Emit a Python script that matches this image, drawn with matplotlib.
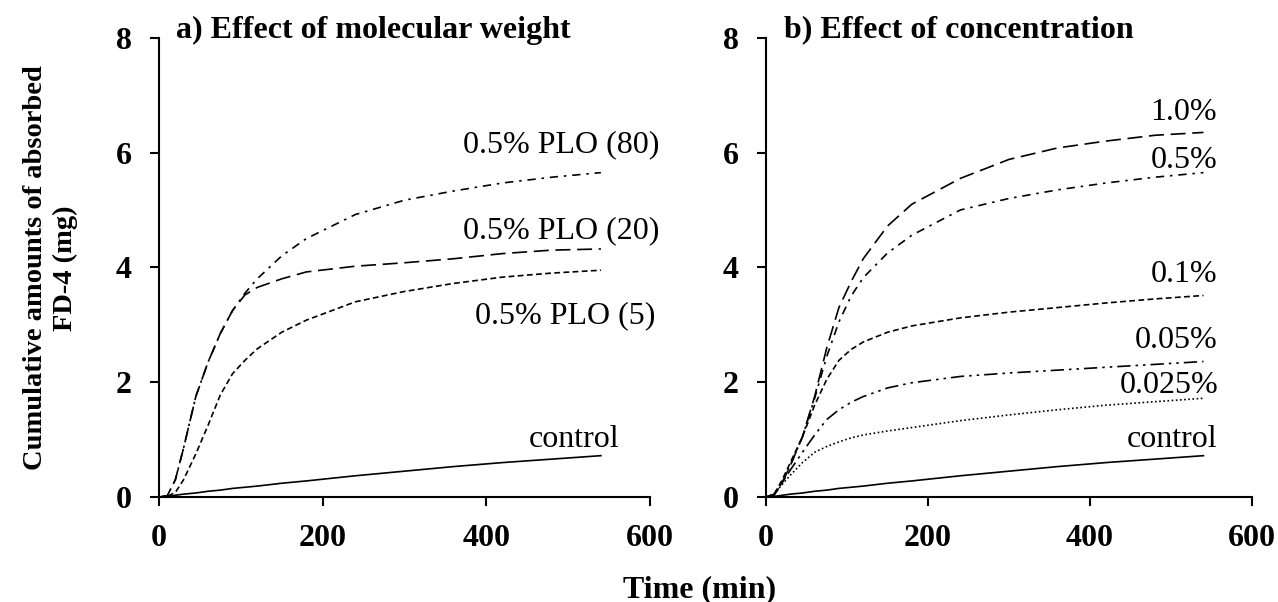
import matplotlib
matplotlib.use("Agg")
import matplotlib.pyplot as plt

plt.rcParams['font.family'] = ['Liberation Serif', 'DejaVu Serif']

# time points (min)
t = [0, 10, 20, 30, 45, 60, 75, 90, 105, 120, 150, 180, 240, 300, 360, 420, 480, 540]

# a) effect of molecular weight
control = [0, 0.01, 0.03, 0.05, 0.07, 0.10, 0.12, 0.15, 0.17, 0.19, 0.24, 0.28, 0.37, 0.45, 0.53, 0.60, 0.66, 0.72]
plo80 = [0, 0.02, 0.30, 0.85, 1.75, 2.35, 2.85, 3.25, 3.55, 3.80, 4.20, 4.50, 4.92, 5.17, 5.33, 5.47, 5.57, 5.65]
plo20 = [0, 0.02, 0.30, 0.85, 1.75, 2.35, 2.85, 3.25, 3.52, 3.65, 3.80, 3.92, 4.02, 4.08, 4.15, 4.24, 4.30, 4.32]
plo5 = [0, 0.01, 0.08, 0.30, 0.75, 1.25, 1.78, 2.15, 2.38, 2.58, 2.87, 3.08, 3.40, 3.58, 3.72, 3.83, 3.90, 3.95]

# b) effect of concentration
c10 = [0, 0.03, 0.25, 0.55, 1.05, 1.75, 2.60, 3.30, 3.75, 4.15, 4.72, 5.10, 5.55, 5.88, 6.08, 6.20, 6.30, 6.35]
c05 = [0, 0.03, 0.25, 0.55, 1.05, 1.72, 2.45, 3.05, 3.50, 3.82, 4.25, 4.56, 5.00, 5.20, 5.35, 5.47, 5.57, 5.65]
c01 = [0, 0.05, 0.30, 0.60, 1.05, 1.60, 2.05, 2.38, 2.57, 2.70, 2.87, 2.98, 3.12, 3.22, 3.30, 3.38, 3.45, 3.51]
c005 = [0, 0.05, 0.25, 0.47, 0.78, 1.08, 1.35, 1.52, 1.65, 1.75, 1.90, 1.99, 2.10, 2.16, 2.21, 2.26, 2.31, 2.36]
c0025 = [0, 0.05, 0.22, 0.38, 0.60, 0.78, 0.88, 0.96, 1.03, 1.08, 1.15, 1.21, 1.33, 1.43, 1.52, 1.60, 1.66, 1.72]

xticks = [0, 200, 400, 600]
yticks = [0, 2, 4, 6, 8]

fig = plt.figure(figsize=(12.78, 6.02), dpi=100)
ax1 = fig.add_axes([0.1244, 0.1744, 0.3842, 0.763])
ax2 = fig.add_axes([0.5994, 0.1744, 0.3803, 0.763])

lw = 1.2
ax1.plot(t, control, color='black', lw=lw, ls='-')
ax1.plot(t, plo80, color='black', lw=lw, ls=(0, (5, 3.5, 1.5, 3.5)))
ax1.plot(t, plo20, color='black', lw=lw, ls=(0, (9, 4)))
ax1.plot(t, plo5, color='black', lw=lw, ls=(0, (3.5, 2)))

ax2.plot(t, control, color='black', lw=lw, ls='-')
ax2.plot(t, c10, color='black', lw=lw, ls=(0, (9, 4)))
ax2.plot(t, c05, color='black', lw=lw, ls=(0, (5, 3.5, 1.5, 3.5)))
ax2.plot(t, c01, color='black', lw=lw, ls=(0, (3.5, 2)))
ax2.plot(t, c005, color='black', lw=lw, ls=(0, (8, 3, 1.5, 3, 1.5, 3)))
ax2.plot(t, c0025, color='black', lw=lw, ls=(0, (1, 1.5)))

fs = 23
for ax in (ax1, ax2):
    ax.set_xlim(0, 600)
    ax.set_ylim(0, 8)
    ax.set_xticks(xticks)
    ax.set_yticks(yticks)
    for s in ('top', 'right'):
        ax.spines[s].set_visible(False)
    for s in ('left', 'bottom'):
        ax.spines[s].set_linewidth(1.5)
    ax.tick_params(direction='out', length=6.5, width=1.5, labelsize=fs, pad=13)
    for lab in ax.get_xticklabels() + ax.get_yticklabels():
        lab.set_fontweight('bold')

ax1.text(0.035, 1.0, 'a) Effect of molecular weight', transform=ax1.transAxes,
         fontsize=fs, fontweight='bold', va='baseline', ha='left')
ax2.text(0.037, 1.0, 'b) Effect of concentration', transform=ax2.transAxes,
         fontsize=fs, fontweight='bold', va='baseline', ha='left')

# curve labels
ax1.text(612, 6.0, '0.5% PLO (80)', fontsize=fs, ha='right', va='baseline', clip_on=False)
ax1.text(612, 4.5, '0.5% PLO (20)', fontsize=fs, ha='right', va='baseline', clip_on=False)
ax1.text(606, 3.03, '0.5% PLO (5)', fontsize=fs, ha='right', va='baseline', clip_on=False)
ax1.text(563, 0.87, 'control', fontsize=fs, ha='right', va='baseline')

ax2.text(557, 6.57, '1.0%', fontsize=fs, ha='right', va='baseline')
ax2.text(557, 5.73, '0.5%', fontsize=fs, ha='right', va='baseline')
ax2.text(557, 3.75, '0.1%', fontsize=fs, ha='right', va='baseline')
ax2.text(557, 2.6, '0.05%', fontsize=fs, ha='right', va='baseline')
ax2.text(558, 1.81, '0.025%', fontsize=fs, ha='right', va='baseline')
ax2.text(557, 0.87, 'control', fontsize=fs, ha='right', va='baseline')

fig.text(0.5477, 0.0083, 'Time (min)', fontsize=fs, fontweight='bold', ha='center', va='baseline')
fig.text(0.0395, 0.555, 'Cumulative amounts of absorbed\nFD-4 (mg)', fontsize=20.5,
         fontweight='bold', rotation=90, ha='center', va='center',
         multialignment='center', linespacing=1.3)

fig.savefig('out.png', dpi=100)
